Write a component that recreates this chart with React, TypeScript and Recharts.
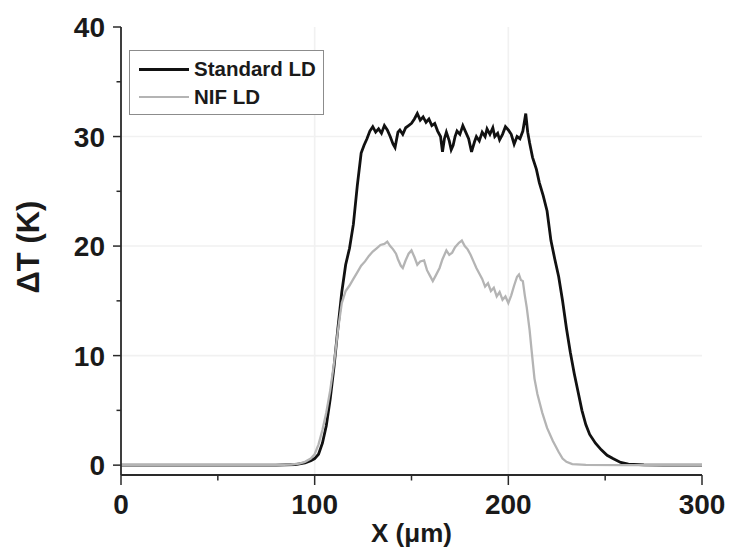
import React from 'react';
import { LineChart, Line, XAxis, YAxis, CartesianGrid, Legend, Label } from 'recharts';

const standardX = [0, 20, 40, 60, 80, 90, 95, 98, 100, 102, 104, 106, 108, 110, 112, 114, 116, 118, 120, 122, 124, 125.5, 127, 128.5, 130, 131.5, 133, 134.5, 136, 137.5, 139, 140.5, 141.5, 143, 144, 145.5, 147, 148.5, 150, 151.5, 153, 154.5, 156, 157.5, 159, 160.5, 162, 163.5, 165, 166, 167, 168, 169.5, 170.5, 171.5, 172.5, 173.5, 175, 176.5, 178, 179.5, 181, 182.5, 183.5, 185, 186.5, 188, 189, 190.5, 192, 193, 194.5, 195.5, 197, 198.5, 200, 201.5, 203, 204.5, 206, 207.5, 209, 210, 211, 212.5, 214.5, 216, 218, 220, 222, 224, 226, 228, 230, 232, 234, 236, 238, 240, 242, 245, 248, 251, 254, 258, 262, 270, 280, 300];
const standardT = [0, 0, 0, 0, 0, 0.05, 0.2, 0.4, 0.6, 1.0, 2.0, 3.6, 6.0, 9.0, 12.5, 15.8, 18.3, 19.8, 22.0, 25.5, 28.5, 29.2, 29.8, 30.5, 30.9, 30.4, 30.7, 30.3, 31.0, 30.6, 30.0, 29.3, 29.0, 30.4, 30.6, 30.2, 30.8, 31.0, 31.2, 31.6, 32.1, 31.5, 31.8, 31.3, 31.6, 31.0, 31.2, 30.5, 30.0, 28.6, 29.8, 30.4, 29.6, 28.8, 29.2, 30.0, 30.5, 30.2, 31.0, 30.4, 29.8, 28.6, 29.5, 30.0, 29.6, 30.4, 30.0, 30.7, 30.2, 30.8, 30.0, 30.3, 29.7, 30.2, 30.9, 30.6, 30.2, 29.3, 30.0, 29.8, 30.5, 32.1, 30.4, 29.4, 28.1, 27.0, 25.8, 24.6, 23.2, 20.5, 18.8, 17.2, 15.0, 12.5, 10.3, 8.4, 6.7, 5.0, 3.7, 2.8, 2.0, 1.4, 0.9, 0.6, 0.25, 0.1, 0.03, 0, 0];

const nifX = [0, 20, 40, 60, 80, 88, 92, 95, 98, 100, 102, 104, 106, 108, 110, 112, 114, 116, 118, 120, 122, 124, 126, 128, 130, 132, 134, 136, 137.5, 139, 140.5, 142, 143, 144.5, 145.5, 147, 148.5, 150, 151.5, 153, 154.5, 156.5, 158, 159.5, 161, 162.5, 164.5, 166, 168, 169.5, 171, 172.5, 174.5, 176, 177.5, 179, 180.5, 182, 183.5, 185, 186.5, 188, 189.5, 191, 192.5, 194, 195.5, 197, 198.5, 200, 201.5, 203, 204.5, 205.5, 206.5, 207.5, 208.5, 209.5, 211, 212, 213.5, 215, 217.5, 220, 223, 226, 228, 230, 233, 240, 260, 300];
const nifT = [0, 0, 0, 0, 0, 0.05, 0.15, 0.3, 0.6, 1.0, 1.9, 3.2, 4.8, 6.8, 9.3, 12.3, 14.8, 15.9, 16.4, 17.0, 17.6, 18.2, 18.6, 19.1, 19.5, 19.8, 20.1, 20.2, 20.4, 20.0, 19.7, 19.3, 18.8, 18.2, 18.0, 18.7, 19.3, 19.6, 19.0, 18.3, 18.6, 18.7, 17.8, 17.3, 16.8, 17.3, 18.0, 18.8, 19.6, 19.2, 19.4, 19.9, 20.3, 20.5, 20.0, 19.7, 19.2, 18.6, 18.0, 17.5, 17.0, 16.3, 16.6, 15.9, 16.2, 15.4, 15.8, 15.1, 15.4, 14.8, 15.5, 16.4, 17.2, 17.4, 16.9, 16.8, 15.5, 14.4, 12.3, 10.5, 7.9, 6.5, 4.8, 3.4, 2.2, 1.2, 0.6, 0.3, 0.1, 0.02, 0, 0];

const seriesNames = ['Standard LD', 'NIF LD'];
const seriesColors = ['#111111', '#b4b4b4'];
const xTicks = [0, 50, 100, 150, 200, 250, 300];
const yTicks = [0, 5, 10, 15, 20, 25, 30, 35, 40];
const xMajor = [0, 100, 200, 300];
const yMajor = [0, 10, 20, 30, 40];
const xGrid = [100, 200];
const yGrid = [10, 20, 30];

const standardData = standardX.map((x, i) => ({ x, t: standardT[i] }));
const nifData = nifX.map((x, i) => ({ x, t: nifT[i] }));

const FONT = '"Liberation Sans", Arial, sans-serif';
const AXIS = '#2a2a2a';

const YTick = (props: any) => {
  const { x, y, payload } = props;
  const v = payload.value;
  const major = yMajor.includes(v);
  return (
    <g>
      <line x1={x - (major ? 8 : 4.5)} x2={x} y1={y} y2={y} stroke={AXIS} strokeWidth={1.5} />
      {major && (
        <text x={x - 16} y={y + 10} textAnchor="end" fontFamily={FONT} fontWeight="bold" fontSize={28} fill="#1a1a1a">
          {v}
        </text>
      )}
    </g>
  );
};

const XTick = (props: any) => {
  const { x, y, payload } = props;
  const v = payload.value;
  const major = xMajor.includes(v);
  return (
    <g>
      <line x1={x} x2={x} y1={y} y2={y + (major ? 10 : 5.5)} stroke={AXIS} strokeWidth={1.5} />
      {major && (
        <text x={x} y={y + 39} textAnchor="middle" fontFamily={FONT} fontWeight="bold" fontSize={28} fill="#1a1a1a">
          {v}
        </text>
      )}
    </g>
  );
};

const renderLegend = (props: any) => {
  const payload = [...(props.payload || [])].sort(
    (a: any, b: any) => seriesNames.indexOf(a.value) - seriesNames.indexOf(b.value)
  );
  return (
    <div style={{ width: 193, height: 63, border: '1px solid #8c8c8c', position: 'relative', background: '#fff' }}>
      {payload.map((p: any, i: number) => (
        <div key={i} style={{ position: 'absolute', left: 9, top: 8 + i * 28, height: 20, display: 'flex', alignItems: 'center' }}>
          <div style={{ width: 50, height: 0, borderTop: `${i === 0 ? 3 : 2.5}px solid ${p.color}` }} />
          <span style={{ marginLeft: 5, fontFamily: FONT, fontWeight: 'bold', fontSize: 20.5, color: '#1a1a1a', lineHeight: '20px' }}>
            {p.value}
          </span>
        </div>
      ))}
    </div>
  );
};

export default function App() {
  return (
    <div style={{ position: 'absolute', left: 0, top: 0, width: 729, height: 550, background: '#fff' }}>
      <LineChart width={729} height={550} margin={{ top: 27, right: 27, bottom: 0, left: 0 }}>
        <CartesianGrid horizontalValues={yGrid} verticalValues={xGrid} stroke="#f1f1f1" strokeWidth={1.6} />
        <XAxis
          xAxisId={0}
          type="number"
          dataKey="x"
          domain={[0, 300]}
          ticks={xTicks}
          interval={0}
          height={75}
          tickSize={0}
          tickMargin={0}
          tickLine={false}
          tick={<XTick />}
          axisLine={{ stroke: AXIS, strokeWidth: 1.8 }}
          allowDataOverflow
        >
          <Label
            content={(p: any) => {
              const vb = p.viewBox;
              return (
                <text x={vb.x + vb.width / 2} y={vb.y + 67} textAnchor="middle" fontFamily={FONT} fontWeight="bold" fontSize={26} fill="#1a1a1a">
                  X (μm)
                </text>
              );
            }}
          />
        </XAxis>
        <XAxis xAxisId="top" orientation="top" type="number" dataKey="x" domain={[0, 300]} height={0} tick={false} tickLine={false} axisLine={{ stroke: AXIS, strokeWidth: 1.8 }} />
        <YAxis
          yAxisId={0}
          type="number"
          domain={[-0.9, 40]}
          ticks={yTicks}
          interval={0}
          width={121}
          tickSize={0}
          tickMargin={0}
          tickLine={false}
          tick={<YTick />}
          axisLine={{ stroke: AXIS, strokeWidth: 1.8 }}
          allowDataOverflow
        >
          <Label
            content={(p: any) => {
              const vb = p.viewBox;
              const cx = vb.x + 39;
              const cy = vb.y + vb.height / 2 - 4;
              return (
                <text x={cx} y={cy} transform={`rotate(-90 ${cx} ${cy})`} textAnchor="middle" fontFamily={FONT} fontWeight="bold" fontSize={31} fill="#1a1a1a">
                  ΔT (K)
                </text>
              );
            }}
          />
        </YAxis>
        <YAxis yAxisId="right" orientation="right" type="number" domain={[-0.9, 40]} width={0} tick={false} tickLine={false} axisLine={{ stroke: AXIS, strokeWidth: 1.8 }} />
        <Legend
          layout="vertical"
          align="center"
          verticalAlign="middle"
          content={renderLegend}
          wrapperStyle={{ left: 129, top: 50, width: 195, height: 65 }}
        />
        <Line
          data={standardData}
          dataKey="t"
          name={seriesNames[0]}
          stroke={seriesColors[0]}
          strokeWidth={2.8}
          dot={false}
          type="linear"
          isAnimationActive={false}
        />
        <Line
          data={nifData}
          dataKey="t"
          name={seriesNames[1]}
          stroke={seriesColors[1]}
          strokeWidth={2.3}
          dot={false}
          type="linear"
          isAnimationActive={false}
        />
      </LineChart>
    </div>
  );
}
